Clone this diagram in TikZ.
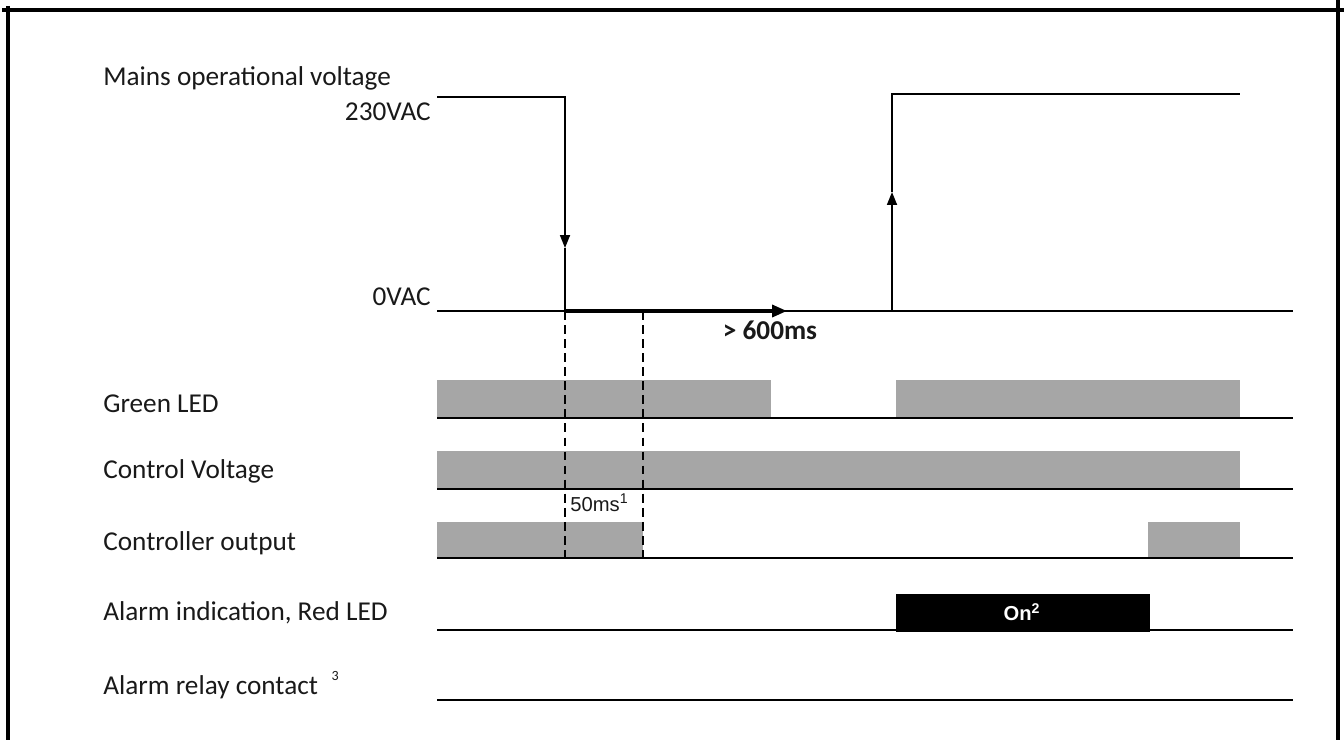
\documentclass[tikz,border=0pt]{standalone}
\usepackage{fontspec}
\setmainfont{Carlito}
\newfontfamily\arialfont{Liberation Sans}
\usetikzlibrary{arrows.meta}

\begin{document}
\begin{tikzpicture}[x=0.02cm,y=-0.02cm,>={Triangle[length=0.26cm,width=0.2cm]},
  lbl/.style={anchor=west,inner sep=0pt,text=black!90,font=\fontsize{15.5}{18}\selectfont},
  lvl/.style={anchor=east,inner sep=0pt,text=black!90,font=\fontsize{15.5}{18}\selectfont},
  frame/.style={line width=2.2pt},
  axis/.style={line width=1pt},
  sig/.style={line width=1pt},
  bar/.style={fill=black!35},
  guide/.style={line width=1pt,dash pattern=on 5pt off 3pt}]
\useasboundingbox (0,0) rectangle (1344,740);
% frame
\draw[frame] (2,10) -- (1344,10);
\draw[frame] (8,6) -- (8,740);
\draw[frame] (1338,0) -- (1338,740);

% signal names
\node[lbl] (mains) at (103,78) {Mains operational voltage};
\node[lvl] (hi) at (431,112) {230VAC};
\node[lvl] (lo) at (431,297) {0VAC};
\node[lbl] (green) at (103,404) {Green LED};
\node[lbl] (ctrlv) at (103,471) {Control Voltage};
\node[lbl] (ctrlo) at (103,543) {Controller output};
\node[lbl] (alarm) at (103,613) {Alarm indication, Red LED};
\node[lbl] (relay) at (103,685) {Alarm relay contact\hspace{0.5em}\raisebox{1.1ex}{\fontsize{8}{9}\selectfont 3}};

% bars
\fill[bar] (437,380) rectangle (771,418);
\fill[bar] (896,380) rectangle (1240,418);
\fill[bar] (437,451) rectangle (1240,489);
\fill[bar] (437,522) rectangle (643,558);
\fill[bar] (1148,522) rectangle (1240,558);
\fill[black] (896,594) rectangle (1150,632);
\node[text=white,font=\arialfont\bfseries\fontsize{11.5}{13}\selectfont] (on) at (1022,612) {On\textsuperscript{2}};

% base lines
\foreach \y in {311,418,489,558,630,700}
  \draw[axis] (437,\y) -- (1293,\y);

% mains voltage
\coordinate (m0) at (437,97);
\coordinate (m1) at (565,97);
\coordinate (m2) at (565,248);
\coordinate (m3) at (565,311);
\coordinate (t0) at (787,311);
\coordinate (r0) at (892,311);
\coordinate (r1) at (892,192);
\coordinate (r2) at (892,94);
\coordinate (r3) at (1240,94);
\draw[sig,->] (m0) -- (m1) -- (m2);
\draw[sig] (m2) -- (m3);
\draw[sig,->] (r0) -- (r1);
\draw[sig] (r1) -- (r2) -- (r3);
\draw[line width=2pt,-{Triangle[length=0.3cm,width=0.24cm]}] (m3) -- (t0);
\node[font=\bfseries\fontsize{15.5}{18}\selectfont,text=black!90] (gap) at (770,330) {> 600ms};

% 50ms window
\coordinate (d0) at (565,558);
\coordinate (e0) at (643,311);
\coordinate (e1) at (643,558);
\draw[guide] (m3) -- (d0);
\draw[guide] (e0) -- (e1);
\node[anchor=west,inner sep=0pt,text=black!90,font=\arialfont\fontsize{11.5}{13}\selectfont] (dt) at (570,503) {50ms\textsuperscript{1}};
\end{tikzpicture}
\end{document}
